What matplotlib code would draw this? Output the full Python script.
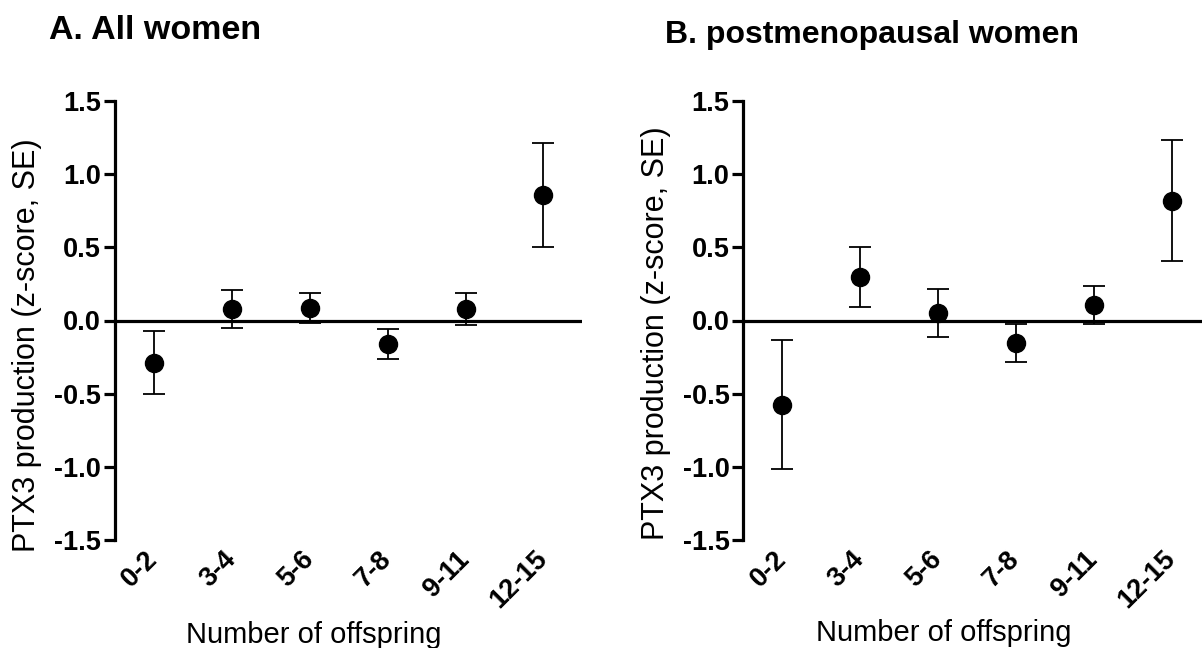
import matplotlib
matplotlib.use("Agg")
import matplotlib.pyplot as plt
import numpy as np

plt.rcParams['font.family'] = ['Liberation Sans', 'DejaVu Sans']

categories = ["0-2", "3-4", "5-6", "7-8", "9-11", "12-15"]

# Panel A: All women
a_mean = [-0.29, 0.08, 0.085, -0.16, 0.08, 0.855]
a_err = [0.215, 0.13, 0.105, 0.10, 0.11, 0.355]

# Panel B: postmenopausal women
b_mean = [-0.575, 0.30, 0.05, -0.155, 0.105, 0.82]
b_err = [0.44, 0.205, 0.165, 0.13, 0.13, 0.415]

yticks = [-1.5, -1.0, -0.5, 0.0, 0.5, 1.0, 1.5]
ytick_labels = ["-1.5", "-1.0", "-0.5", "0.0", "0.5", "1.0", "1.5"]

W, H = 1202, 648
fig = plt.figure(figsize=(W / 100, H / 100), dpi=100)


def panel(rect, mean, err):
    ax = fig.add_axes(rect)
    x = np.arange(len(categories))
    ax.axhline(0, color='black', lw=2.3, zorder=1)
    ax.errorbar(x, mean, yerr=err, fmt='o', color='black', ms=13,
                elinewidth=1.3, capsize=8, capthick=1.3, zorder=3)
    ax.set_xlim(-0.5, len(categories) - 0.5)
    ax.set_ylim(-1.5, 1.5)
    for s in ['top', 'right', 'bottom']:
        ax.spines[s].set_visible(False)
    ax.spines['left'].set_linewidth(2.3)
    ax.set_yticks(yticks)
    ax.set_yticklabels(ytick_labels, fontsize=19.5, fontweight='bold')
    ax.tick_params(axis='y', length=8, width=2.3, pad=2)
    ax.set_xticks(x)
    ax.set_xticklabels(categories, fontsize=19.5, fontweight='bold',
                       rotation=45, ha='right', rotation_mode='anchor')
    ax.tick_params(axis='x', length=0, pad=11)
    for lab in ax.get_xticklabels():
        lab.set_va('center')
    return ax


axA = panel([115 / W, 108 / H, 467.4 / W, 439 / H], a_mean, a_err)
axB = panel([743.3 / W, 108 / H, 467.4 / W, 439 / H], b_mean, b_err)

fig.text(49 / W, 1 - 39 / H, "A. All women", fontsize=24.5, fontweight='bold',
         ha='left', va='baseline')
fig.text(872 / W, 1 - 43 / H, "B. postmenopausal women", fontsize=23,
         fontweight='bold', ha='center', va='baseline')

fig.text(27 / W, 1 - 345 / H, "PTX3 production (z-score, SE)", fontsize=22,
         rotation=90, ha='center', va='center')
fig.text(656 / W, 1 - 333 / H, "PTX3 production (z-score, SE)", fontsize=22,
         rotation=90, ha='center', va='center')

fig.text(314 / W, 1 - 621 / H, "Number of offspring", fontsize=21,
         ha='center', va='top')
fig.text(944 / W, 1 - 619 / H, "Number of offspring", fontsize=21,
         ha='center', va='top')

fig.savefig("out.png", dpi=100)
